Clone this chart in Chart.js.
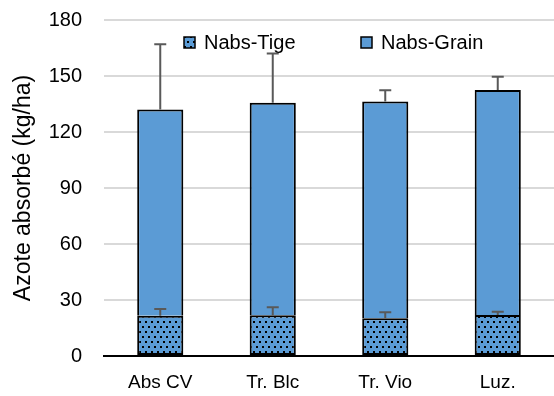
<!DOCTYPE html>
<html>
<head>
<meta charset="utf-8">
<script src="https://cdn.jsdelivr.net/npm/chart.js@4/dist/chart.umd.min.js"></script>
<style>
  html, body { margin: 0; padding: 0; background: #fff; }
  #wrap { width: 554px; height: 396px; }
</style>
</head>
<body>
<div id="wrap"><canvas id="c" width="554" height="396"></canvas></div>
<script>
const categories = ['Abs CV', 'Tr. Blc', 'Tr. Vio', 'Luz.'];
const tige = [21.6, 21.8, 20.2, 22.0];
const tigeErr = [3.6, 4.3, 3.2, 1.7];
const grain = [110.5, 113.9, 116.2, 120.5];
const grainErr = [34.9, 26.4, 5.9, 7.1];
const yTicks = [0, 30, 60, 90, 120, 150, 180];

const FONT = "'Liberation Sans', Arial, sans-serif";
const BLUE = '#5B9BD5';

function makePattern() {
  const p = document.createElement('canvas');
  p.width = 6; p.height = 10;
  const g = p.getContext('2d');
  g.fillStyle = BLUE;
  g.fillRect(0, 0, 6, 10);
  g.fillStyle = '#000';
  g.fillRect(1, 1, 2, 2);
  g.fillRect(4, 6, 2, 2);
  return document.getElementById('c').getContext('2d').createPattern(p, 'repeat');
}
const dotPattern = makePattern();

const errorBars = {
  id: 'errorBars',
  afterDatasetsDraw(chart) {
    const ctx = chart.ctx;
    const y = chart.scales.y;
    ctx.save();
    ctx.strokeStyle = '#595959';
    ctx.lineWidth = 2;
    chart.data.datasets.forEach((ds, di) => {
      const meta = chart.getDatasetMeta(di);
      meta.data.forEach((bar, i) => {
        let base = 0;
        for (let k = 0; k <= di; k++) base += chart.data.datasets[k].data[i];
        const yTop = y.getPixelForValue(base + ds.errPlus[i]);
        const yBar = y.getPixelForValue(base);
        ctx.beginPath();
        ctx.moveTo(bar.x, yBar);
        ctx.lineTo(bar.x, yTop);
        ctx.moveTo(bar.x - 6, yTop);
        ctx.lineTo(bar.x + 6, yTop);
        ctx.stroke();
      });
    });
    ctx.restore();
  }
};

const customLegend = {
  id: 'customLegend',
  afterDraw(chart) {
    const ctx = chart.ctx;
    const items = [
      { x: 184, ds: chart.data.datasets[0] },
      { x: 361, ds: chart.data.datasets[1] }
    ];
    ctx.save();
    ctx.font = "20px " + FONT;
    ctx.textBaseline = 'middle';
    items.forEach(it => {
      ctx.fillStyle = it.ds.backgroundColor;
      ctx.fillRect(it.x, 37, 11, 11);
      ctx.strokeStyle = '#000';
      ctx.lineWidth = 1.5;
      ctx.strokeRect(it.x, 37, 11, 11);
      ctx.fillStyle = '#000';
      ctx.fillText(it.ds.label, it.x + 20, 43);
    });
    ctx.restore();
  }
};

new Chart(document.getElementById('c'), {
  type: 'bar',
  data: {
    labels: categories,
    datasets: [
      {
        label: 'Nabs-Tige',
        data: tige,
        errPlus: tigeErr,
        backgroundColor: dotPattern,
        borderColor: '#000',
        borderWidth: 2,
        borderSkipped: false
      },
      {
        label: 'Nabs-Grain',
        data: grain,
        errPlus: grainErr,
        backgroundColor: BLUE,
        borderColor: '#000',
        borderWidth: { top: 2, left: 2, right: 2, bottom: 0 },
        borderSkipped: false
      }
    ]
  },
  options: {
    responsive: false,
    animation: false,
    devicePixelRatio: 1,
    layout: { autoPadding: false, padding: { top: 20, right: 0, left: 0, bottom: 0 } },
    datasets: { bar: { categoryPercentage: 1, barPercentage: 0.41 } },
    plugins: {
      legend: { display: false },
      tooltip: { enabled: false }
    },
    scales: {
      x: {
        stacked: true,
        grid: { display: false, drawTicks: false },
        border: { display: true, color: '#000', width: 2 },
        ticks: { color: '#000', font: { family: FONT, size: 19 }, padding: 15 },
        afterFit(s) { s.height = 40; s.paddingLeft = 0; s.paddingRight = 0; }
      },
      y: {
        stacked: true,
        min: 0, max: 180,
        afterBuildTicks(s) { s.ticks = yTicks.map(v => ({ value: v })); },
        grid: {
          drawTicks: false,
          color: c => c.tick && c.tick.value === 0 ? 'rgba(0,0,0,0)' : '#D9D9D9',
          lineWidth: 2
        },
        border: { display: false },
        ticks: { color: '#000', font: { family: FONT, size: 20 }, padding: 22 },
        title: {
          display: true,
          text: 'Azote absorbé (kg/ha)',
          color: '#000',
          font: { family: FONT, size: 23 },
          padding: { top: 10, bottom: 0 }
        },
        afterFit(s) { s.width = 104; s.paddingTop = 0; s.paddingBottom = 0; }
      }
    }
  },
  plugins: [errorBars, customLegend]
});
</script>
</body>
</html>
